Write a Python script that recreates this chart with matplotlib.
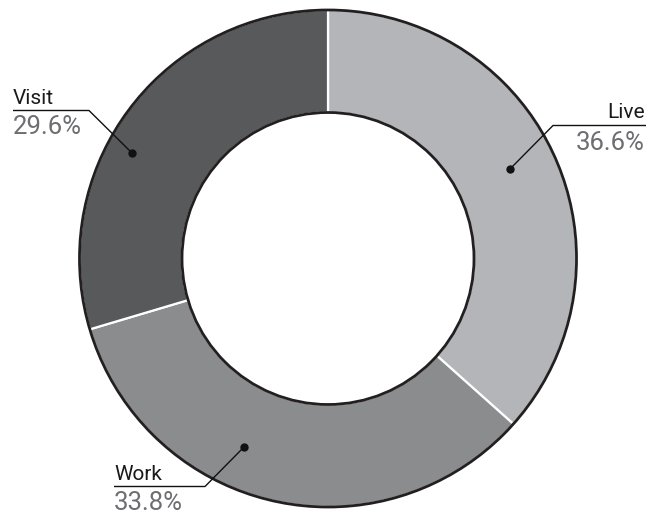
import matplotlib
matplotlib.use("Agg")
import matplotlib.pyplot as plt
from matplotlib.patches import Circle

categories = ["Live", "Work", "Visit"]
values = [36.6, 33.8, 29.6]
pct_labels = ["36.6%", "33.8%", "29.6%"]
colors = ["#b3b5b8", "#8b8c8e", "#58595b"]

W, H = 663, 516
fig = plt.figure(figsize=(W / 100, H / 100), dpi=100)
ax = fig.add_axes([0, 0, 1, 1])

def Y(y):
    return H - y

cx, cy = 328, Y(258.5)
R, r = 248.5, 146

ax.pie(values, colors=colors, startangle=90, counterclock=False,
       radius=R, center=(cx, cy),
       wedgeprops=dict(width=R - r, edgecolor="white", linewidth=1.6))
ax.add_patch(Circle((cx, cy), R, fill=False, edgecolor="#231f20", linewidth=2.0, zorder=3))
ax.add_patch(Circle((cx, cy), r, fill=False, edgecolor="#231f20", linewidth=2.0, zorder=3))

# label layout: dot position, elbow, line end, text anchor side
layouts = {
    "Live":  dict(dot=(510, 169), elbow=(553, 125.5), end=(646, 125.5), ha="right"),
    "Work":  dict(dot=(244, 447), elbow=(205, 486.5), end=(114, 486.5), ha="left"),
    "Visit": dict(dot=(132, 153), elbow=(89, 110.5), end=(13, 110.5), ha="left"),
}

font = "Roboto"
for cat, pct in zip(categories, pct_labels):
    L = layouts[cat]
    dx, dy = L["dot"]
    ex, ey = L["elbow"]
    fx, fy = L["end"]
    ax.plot([dx, ex, fx], [Y(dy), Y(ey), Y(fy)], color="#111111", linewidth=1.0, zorder=4,
            solid_capstyle="butt")
    ax.plot([dx], [Y(dy)], marker="o", markersize=5, color="#111111", zorder=5)
    tx = fx if L["ha"] == "left" else fx - 1
    ax.text(tx, Y(fy - 7), cat, ha=L["ha"], va="baseline", fontsize=15,
            family=font, color="#1a1a1a")
    ax.text(tx, Y(fy + 24), pct, ha=L["ha"], va="baseline", fontsize=18.5,
            family=font, color="#6d6e71")

ax.set_xlim(0, W)
ax.set_ylim(0, H)
ax.set_aspect("equal")
ax.axis("off")
fig.savefig("out.png", dpi=100)
